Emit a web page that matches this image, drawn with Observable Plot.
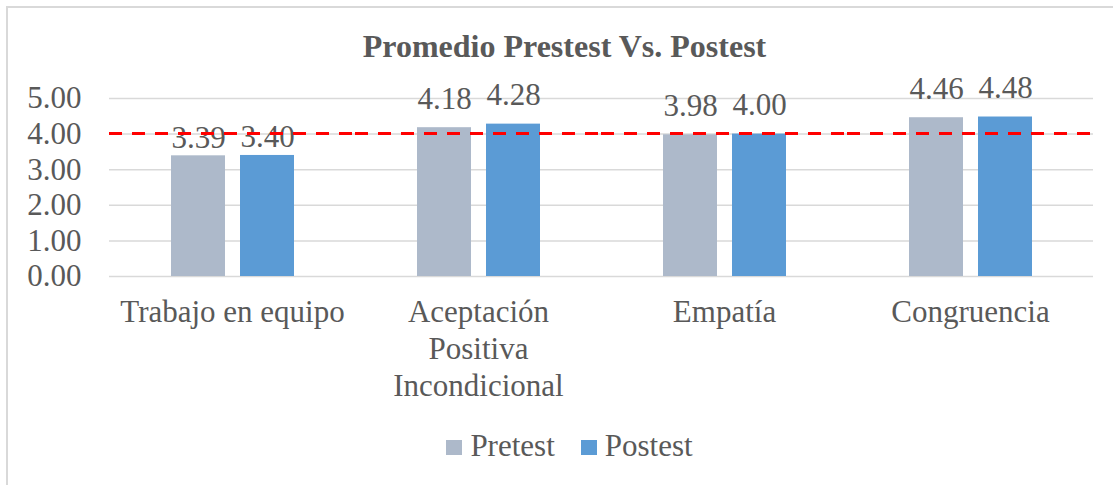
<!DOCTYPE html>
<html><head><meta charset="utf-8">
<script src="https://cdn.jsdelivr.net/npm/d3@7"></script>
<script src="https://cdn.jsdelivr.net/npm/@observablehq/plot@0.6"></script>
<style>
body{margin:0;background:#fff;}
#wrap{position:relative;width:1113px;height:485px;overflow:hidden;font-family:"Liberation Serif","Times New Roman",serif;color:#595959;background:#fff;}
#box{position:absolute;left:6px;top:6px;width:1130px;height:520px;border:2px solid #D9D9D9;box-sizing:border-box;}
#title{position:absolute;left:0;width:1129px;top:31px;text-align:center;font-weight:bold;font-size:32px;line-height:31px;white-space:nowrap;}
#chart{position:absolute;left:0;top:0;}
#legend{position:absolute;left:0;width:1139px;top:431px;text-align:center;font-size:31px;line-height:30px;white-space:nowrap;}
.sw{display:inline-block;width:16px;height:15px;margin-bottom:1.5px;margin-right:8px;vertical-align:baseline;}
.item{display:inline-block;}
.item + .item{margin-left:26px;}
</style>
</head><body>
<div id="wrap">
  <div id="box"></div>
  <div id="title">Promedio Prestest Vs. Postest</div>
  <div id="chart"></div>
  <div id="legend"></div>
</div>
<script>
const categories = ["Trabajo en equipo", "Aceptación Positiva Incondicional", "Empatía", "Congruencia"];
const categoryLabels = ["Trabajo en equipo", "Aceptación\nPositiva\nIncondicional", "Empatía", "Congruencia"];
const series = ["Pretest", "Postest"];
const pretest = [3.39, 4.18, 3.98, 4.46];
const postest = [3.40, 4.28, 4.00, 4.48];
const colors = ["#ADB9CA", "#5B9BD5"];
const yTicks = [0, 1, 2, 3, 4, 5];
const reference = 4.02;

const rows = categories.flatMap((c, i) => [
  {category: c, series: series[0], value: pretest[i]},
  {category: c, series: series[1], value: postest[i]}
]);
const fmt = d3.format(".2f");

const chart = Plot.plot({
  width: 1113, height: 410,
  marginTop: 98, marginBottom: 134, marginLeft: 108, marginRight: 20,
  style: {fontFamily: "Liberation Serif, Times New Roman, serif", fontSize: "31px", color: "#595959", background: "transparent", overflow: "visible"},
  fx: {domain: categories, padding: 0, label: null},
  x: {domain: series, paddingInner: 0.22, paddingOuter: 0.87, axis: null},
  y: {domain: [0, 5]},
  color: {domain: series, range: colors},
  marks: [
    Plot.gridY(yTicks, {stroke: "#D9D9D9", strokeOpacity: 1, strokeWidth: 1.5}),
    Plot.axisY(yTicks, {tickFormat: fmt, tickSize: 0, tickPadding: 28, fontSize: 31, label: null, fill: "#595959"}),
    Plot.barY(rows, {fx: "category", x: "series", y: "value", fill: "series", inset: 0}),
    Plot.text(rows, {filter: d => d.category === categories[0], fx: "category", x: "series", y: "value", text: d => fmt(d.value), lineAnchor: "bottom", dy: -8, fontSize: 31, fill: "#595959"}),
    Plot.text(rows, {filter: d => d.category !== categories[0], fx: "category", x: "series", y: "value", text: d => fmt(d.value), lineAnchor: "bottom", dy: -19, fontSize: 31, fill: "#595959"}),
    Plot.ruleY([reference], {stroke: "#FF0000", strokeWidth: 3, strokeDasharray: "13,10"}),
    Plot.axisFx({tickFormat: d => categoryLabels[categories.indexOf(d)], tickSize: 0, tickPadding: 20, fontSize: 31, lineHeight: 1.18, label: null, anchor: "bottom", fill: "#595959"})
  ]
});
document.getElementById("chart").appendChild(chart);

const legend = document.getElementById("legend");
series.forEach((s, i) => {
  const item = document.createElement("span");
  item.className = "item";
  const sw = document.createElement("span");
  sw.className = "sw";
  sw.style.background = colors[i];
  item.appendChild(sw);
  item.appendChild(document.createTextNode(s));
  legend.appendChild(item);
});
</script>
</body></html>
